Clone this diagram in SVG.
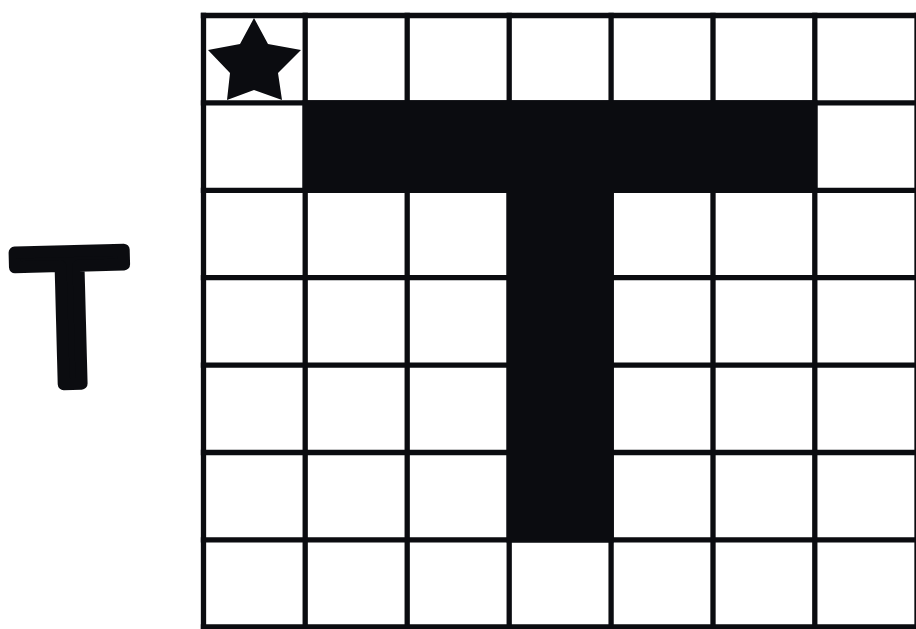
<svg xmlns="http://www.w3.org/2000/svg" width="916" height="629" viewBox="0 0 916 629">
  <style>
    .g { stroke: #0b0c10; stroke-width: 5.3; fill: none; }
    .ink { fill: #0b0c10; }
    .hand { font-family: "Liberation Sans", Arial, sans-serif; font-size: 193px; fill: #0b0c10; stroke: #0b0c10; stroke-width: 12; stroke-linejoin: round; }
  </style>
  <rect width="916" height="629" fill="#ffffff"/>
  <g id="label">
    <text class="hand" x="11.6" y="384" transform="rotate(-1.5 70 300)">T</text>
  </g>
  <g id="grid" class="g">
    <line x1="203.5" y1="12.8" x2="203.5" y2="630"/>
    <line x1="305.2" y1="12.8" x2="305.2" y2="630"/>
    <line x1="407.2" y1="12.8" x2="407.2" y2="630"/>
    <line x1="509.2" y1="12.8" x2="509.2" y2="630"/>
    <line x1="611.1" y1="12.8" x2="611.1" y2="630"/>
    <line x1="713" y1="12.8" x2="713" y2="630"/>
    <line x1="814.8" y1="12.8" x2="814.8" y2="630"/>
    <line x1="917" y1="12.8" x2="917" y2="630"/>
    <line x1="200.8" y1="15.5" x2="920" y2="15.5"/>
    <line x1="200.8" y1="102.9" x2="920" y2="102.9"/>
    <line x1="200.8" y1="190.3" x2="920" y2="190.3"/>
    <line x1="200.8" y1="277.7" x2="920" y2="277.7"/>
    <line x1="200.8" y1="365.1" x2="920" y2="365.1"/>
    <line x1="200.8" y1="452.5" x2="920" y2="452.5"/>
    <line x1="200.8" y1="539.9" x2="920" y2="539.9"/>
    <line x1="200.8" y1="627" x2="920" y2="627"/>
  </g>
  <g id="letter-T">
    <path class="ink" d="M302.5 100.2 H817.5 V193 H613.8 V542.5 H506.5 V193 H302.5 Z"/>
  </g>
  <g id="star">
    <polygon class="ink" points="254,18 268,44 301,50 278,73 282,100 254,90 227,100 230,73 208,50 240,44"/>
  </g>
</svg>
